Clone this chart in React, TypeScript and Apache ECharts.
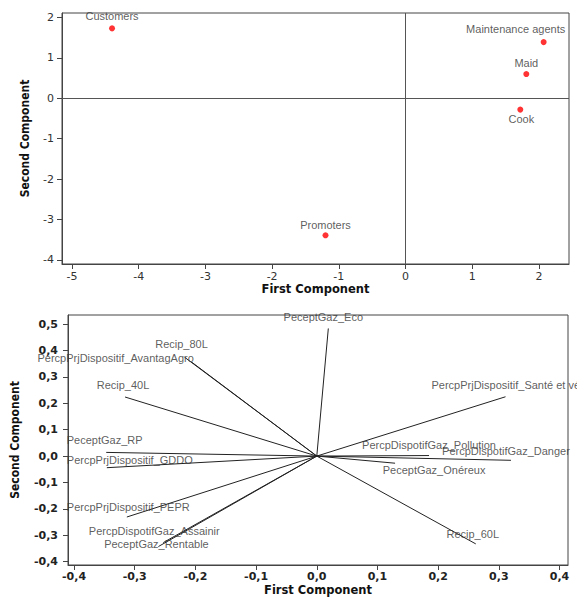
import React, { useEffect, useRef } from "react";
import * as echarts from "echarts";

// ---- Top chart data (object scores) ----
const roleNames = ["Customers", "Maintenance agents", "Maid", "Cook", "Promoters"];
const roleX = [-4.4, 2.07, 1.81, 1.72, -1.2];
const roleY = [1.73, 1.39, 0.6, -0.28, -3.39];
const topXTicks = [-5, -4, -3, -2, -1, 0, 1, 2];
const topYTicks = [-4, -3, -2, -1, 0, 1, 2];

// ---- Bottom chart data (component loadings) ----
const varNames = [
  "PeceptGaz_Eco",
  "PercpPrjDispositif_Santé et vécu",
  "PercpDispotifGaz_Pollution",
  "PercpDispotifGaz_Danger",
  "PeceptGaz_Onéreux",
  "Recip_60L",
  "Recip_80L",
  "PercpPrjDispositif_AvantagAgro",
  "Recip_40L",
  "PeceptGaz_RP",
  "PercpPrjDispositif_GDDO",
  "PercpPrjDispositif_PEPR",
  "PercpDispotifGaz_Assainir",
  "PeceptGaz_Rentable",
];
const varX = [0.019, 0.311, 0.185, 0.32, 0.129, 0.262, -0.218, -0.206, -0.316, -0.347, -0.346, -0.313, -0.253, -0.261];
const varY = [0.484, 0.225, 0.002, -0.016, -0.027, -0.333, 0.375, 0.356, 0.224, 0.014, -0.044, -0.231, -0.328, -0.343];
const botXTicks = [-0.4, -0.3, -0.2, -0.1, 0, 0.1, 0.2, 0.3, 0.4];
const botYTicks = [-0.4, -0.3, -0.2, -0.1, 0, 0.1, 0.2, 0.3, 0.4, 0.5];

// label placement (styling, pixels)
const roleLabelOffsets = [[0, -12], [-28, -13], [0, -11], [1, 9], [0, -10]];
const varLabelOffsets = [
  [-5, -11], [-74, -11.5], [0, -10.5], [-5, -9], [39, 7], [-3, -10], [-3, -13],
  [2, -4], [-2, -12], [-39.5, -12.7], [-40, -8], [-60, -10], [-9, -12], [-2, -3],
];
const varLabelAlign = [
  "center", "left", "center", "center", "center", "center", "center",
  "right", "center", "left", "left", "left", "center", "center",
];

const AXIS_COLOR = "#444";
const tickFont = { fontFamily: "'DejaVu Sans', sans-serif", fontSize: 11, color: "#333" };
const nameFont = { fontFamily: "'DejaVu Sans', sans-serif", fontSize: 11.5, fontWeight: "bold", color: "#111" };
const yNameFont = { fontFamily: "'DejaVu Sans Condensed', 'Liberation Sans', sans-serif", fontSize: 12, fontWeight: "bold", color: "#111" };
const commaFmt = (v: number) => v.toFixed(1).replace(".", ",");

function makeAxis(extra: any) {
  return {
    type: "value",
    splitLine: { show: false },
    axisLine: { show: true, onZero: false, lineStyle: { color: AXIS_COLOR, width: 1 } },
    ...extra,
  };
}

export default function App() {
  const ref = useRef<HTMLDivElement>(null);
  useEffect(() => {
    const chart = echarts.init(ref.current as HTMLDivElement, null, { renderer: "svg" });
    const option: any = {
      animation: false,
      backgroundColor: "#fff",
      grid: [
        { left: 62, top: 13, width: 507, height: 251, show: true, borderColor: AXIS_COLOR, borderWidth: 1, backgroundColor: "transparent" },
        { left: 68, top: 315, width: 500, height: 250, show: true, borderColor: AXIS_COLOR, borderWidth: 1, backgroundColor: "transparent" },
      ],
      xAxis: [
        makeAxis({
          gridIndex: 0, min: -5.15, max: 2.45,
          axisTick: { show: true, length: 5, customValues: topXTicks, lineStyle: { color: AXIS_COLOR } },
          axisLabel: { customValues: topXTicks, margin: 7, ...tickFont },
          name: "First Component", nameLocation: "middle", nameGap: 19, nameTextStyle: nameFont,
        }),
        makeAxis({
          gridIndex: 1, min: -0.41, max: 0.414,
          axisTick: { show: true, length: 5, customValues: botXTicks, lineStyle: { color: AXIS_COLOR } },
          axisLabel: { customValues: botXTicks, margin: 6, formatter: commaFmt, ...tickFont, fontWeight: "bold", color: "#222" },
          name: "First Component", nameLocation: "middle", nameGap: 19, nameTextStyle: nameFont,
        }),
      ],
      yAxis: [
        makeAxis({
          gridIndex: 0, min: -4.1, max: 2.11,
          axisTick: { show: true, length: 5, customValues: topYTicks, lineStyle: { color: AXIS_COLOR } },
          axisLabel: { customValues: topYTicks, margin: 8, ...tickFont },
          name: "Second Component", nameLocation: "middle", nameRotate: 90, nameGap: 31, nameTextStyle: yNameFont,
        }),
        makeAxis({
          gridIndex: 1, min: -0.413, max: 0.535,
          axisTick: { show: true, length: 5, customValues: botYTicks, lineStyle: { color: AXIS_COLOR } },
          axisLabel: { customValues: botYTicks, margin: 10, formatter: commaFmt, ...tickFont, fontWeight: "bold", color: "#222" },
          name: "Second Component", nameLocation: "middle", nameRotate: 90, nameGap: 47, nameTextStyle: yNameFont,
        }),
      ],
      series: [
        {
          type: "scatter",
          xAxisIndex: 0,
          yAxisIndex: 0,
          symbol: "circle",
          symbolSize: 6,
          itemStyle: { color: "#ff0000" },
          data: roleNames.map((n, i) => ({
            name: n,
            value: [roleX[i], roleY[i]],
            label: { offset: roleLabelOffsets[i] },
          })),
          label: {
            show: true, position: "inside", formatter: "{b}",
            fontFamily: "'Liberation Sans', Arial, sans-serif", fontSize: 11, color: "#333",
          },
          markLine: {
            silent: true, symbol: "none", label: { show: false },
            lineStyle: { color: "#555", width: 1, type: "solid" },
            data: [{ xAxis: 0 }, { yAxis: 0 }],
          },
          z: 3,
        },
        {
          type: "lines",
          coordinateSystem: "cartesian2d",
          xAxisIndex: 1,
          yAxisIndex: 1,
          lineStyle: { color: "#222", width: 1, opacity: 1 },
          data: varNames.map((n, i) => ({ name: n, coords: [[0, 0], [varX[i], varY[i]]] })),
        },
        {
          type: "scatter",
          xAxisIndex: 1,
          yAxisIndex: 1,
          symbolSize: 0,
          itemStyle: { color: "transparent" },
          data: varNames.map((n, i) => ({
            name: n,
            value: [varX[i], varY[i]],
            label: { offset: varLabelOffsets[i], align: varLabelAlign[i] },
          })),
          label: {
            show: true, position: "inside", formatter: "{b}",
            fontFamily: "'Liberation Sans', Arial, sans-serif", fontSize: 11, color: "#333",
          },
          z: 4,
        },
      ],
    };
    chart.setOption(option);
    return () => chart.dispose();
  }, []);
  return (
    <div
      ref={ref}
      style={{ position: "fixed", left: 0, top: 0, width: 577, height: 597, background: "#fff" }}
    />
  );
}
